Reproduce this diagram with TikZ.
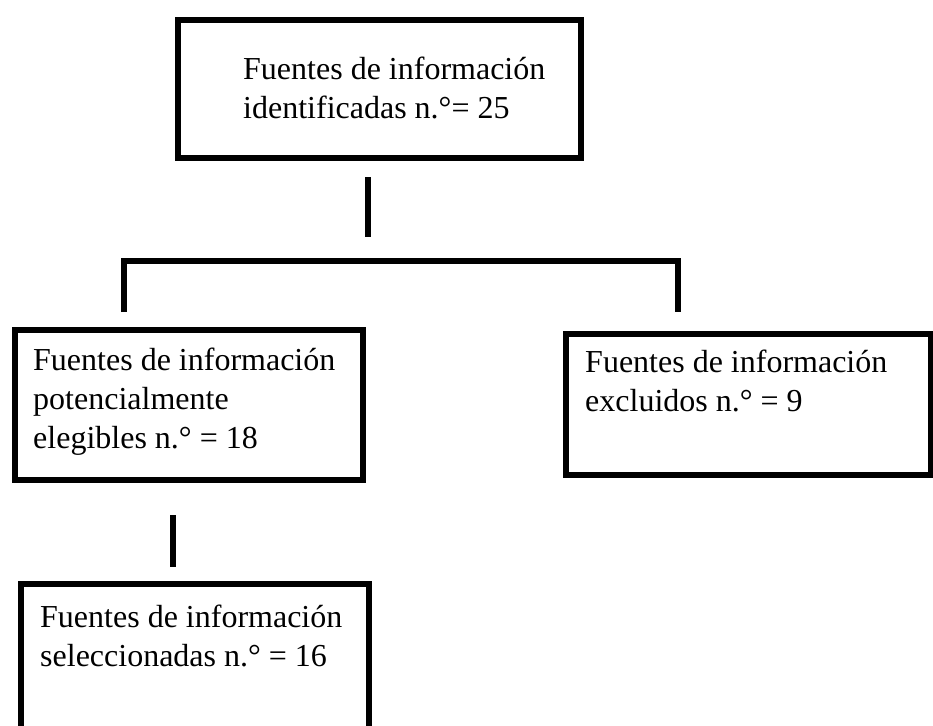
\documentclass[tikz,border=0pt]{standalone}
\usepackage{fontspec}
\setmainfont{Liberation Serif}
\begin{document}
\begin{tikzpicture}[x=1pt,y=-1pt,
  boxst/.style={draw, line width=6pt, rectangle, inner sep=0pt, anchor=north west},
  lbl/.style={anchor=north west, inner sep=0pt, font=\fontsize{32}{39}\selectfont, align=left},
  link/.style={line width=6pt}]
\useasboundingbox (0,0) rectangle (933,725);
% boxes
\node[boxst, minimum width=403pt, minimum height=138pt] (top) at (175,17) {};
\node[boxst, minimum width=348pt, minimum height=150pt] (left) at (12,327) {};
\node[boxst, minimum width=365pt, minimum height=141pt] (right) at (563,331) {};
\node[boxst, minimum width=348pt, minimum height=150pt] (bottom) at (18,581) {};
% texts
\node[lbl] (ttop) at (243,57) {Fuentes de información\\identificadas n.°= 25};
\node[lbl] (tleft) at (33,348) {Fuentes de información\\potencialmente\\elegibles n.° = 18};
\node[lbl] (tright) at (585,350) {Fuentes de información\\excluidos n.° = 9};
\node[lbl] (tbottom) at (40,605) {Fuentes de información\\seleccionadas n.° = 16};
% connectors
\coordinate (v1a) at (368,177);
\coordinate (v1b) at (368,237);
\draw[link] (v1a) -- (v1b);
\coordinate (bl) at (124,312);
\coordinate (br) at (678,312);
\draw[link] (bl) |- (678,261) -- (br);
\coordinate (v2a) at (173,515);
\coordinate (v2b) at (173,567);
\draw[link] (v2a) -- (v2b);
\end{tikzpicture}
\end{document}
